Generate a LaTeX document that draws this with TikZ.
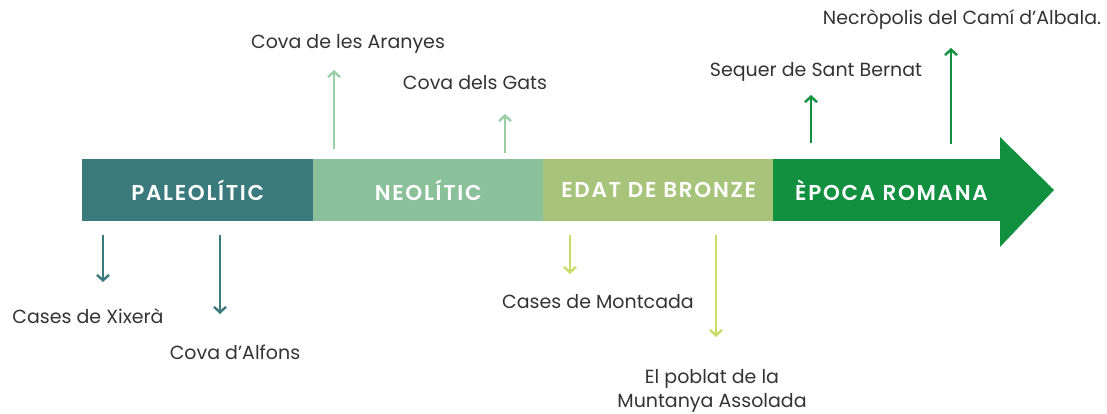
\documentclass[tikz,border=0pt]{standalone}
\usepackage{fontspec}
\setmainfont{Poppins}
\newfontfamily\barfont[LetterSpace=8]{Poppins SemiBold}
\usetikzlibrary{arrows.meta}
\definecolor{paleo}{HTML}{3A7A7C}
\definecolor{neo}{HTML}{8AC19A}
\definecolor{bronze}{HTML}{A8C47A}
\definecolor{roma}{HTML}{11913F}
\definecolor{neoarr}{HTML}{9ACFA6}
\definecolor{bronzearr}{HTML}{C8DC6A}
\definecolor{txt}{HTML}{333333}
\tikzset{
  seg/.style={fill=#1, draw=none, minimum height=61pt, inner sep=0pt, anchor=west,
    text=white, font=\barfont\fontsize{21.5}{23}\selectfont},
  lbl/.style={text=txt, font=\fontsize{19}{24}\selectfont, inner sep=0pt, align=center},
  evt/.style={draw=#1, line width=2.4pt, -{Straight Barb[length=5.5pt,width=12pt,line width=2.4pt]}},
}
\begin{document}
\begin{tikzpicture}[x=1pt,y=-1pt]
\useasboundingbox (0,0) rectangle (1107,414);
% bar
\node[seg=paleo, minimum width=231pt] (pal) at (82,190) {PALEOLÍTIC};
\node[seg=neo, minimum width=230pt] (neo) at (313,190) {NEOLÍTIC};
\node[seg=bronze, minimum width=231pt] (bro) at (543,190) {EDAT DE BRONZE};
\node[seg=roma, minimum width=227pt, text width=227pt, align=left, inner xsep=0pt] (rom) at (773,190) {\hspace*{22pt}ÈPOCA ROMANA};
\fill[roma] (999,159.5) -- (1000,159.5) -- (1000,137) -- (1054,190) -- (1000,247) -- (1000,220.5) -- (999,220.5) -- cycle;
% labels
\node[lbl] (xix) at (88,316) {Cases de Xixerà};
\node[lbl] (alf) at (235,352) {Cova d’Alfons};
\node[lbl] (ara) at (348,44) {Cova de les Aranyes};
\node[lbl] (gat) at (475,83) {Cova dels Gats};
\node[lbl] (mon) at (598,302) {Cases de Montcada};
\node[lbl, text depth=0pt] (pob1) at (712,376) {El poblat de la};
\node[lbl] (pob2) at (712,403) {Muntanya Assolada};
\node[lbl] (seq) at (816,72) {Sequer de Sant Bernat};
\node[lbl] (nec) at (962,19) {Necròpolis del Camí d’Albala.};
% arrow coordinates
\coordinate (a1s) at (103,235); \coordinate (a1e) at (103,282);
\coordinate (a2s) at (220,235); \coordinate (a2e) at (220,314);
\coordinate (a3s) at (334,149); \coordinate (a3e) at (334,70);
\coordinate (a4s) at (505,153); \coordinate (a4e) at (505,114);
\coordinate (a5s) at (570,235); \coordinate (a5e) at (570,274);
\coordinate (a6s) at (716,235); \coordinate (a6e) at (716,337);
\coordinate (a7s) at (811,143); \coordinate (a7e) at (811,95);
\coordinate (a8s) at (951,144); \coordinate (a8e) at (951,48);
\draw[evt=paleo] (a1s) -- (a1e);
\draw[evt=paleo] (a2s) -- (a2e);
\draw[evt=neoarr] (a3s) -- (a3e);
\draw[evt=neoarr] (a4s) -- (a4e);
\draw[evt=bronzearr] (a5s) -- (a5e);
\draw[evt=bronzearr] (a6s) -- (a6e);
\draw[evt=roma] (a7s) -- (a7e);
\draw[evt=roma] (a8s) -- (a8e);
\end{tikzpicture}
\end{document}
